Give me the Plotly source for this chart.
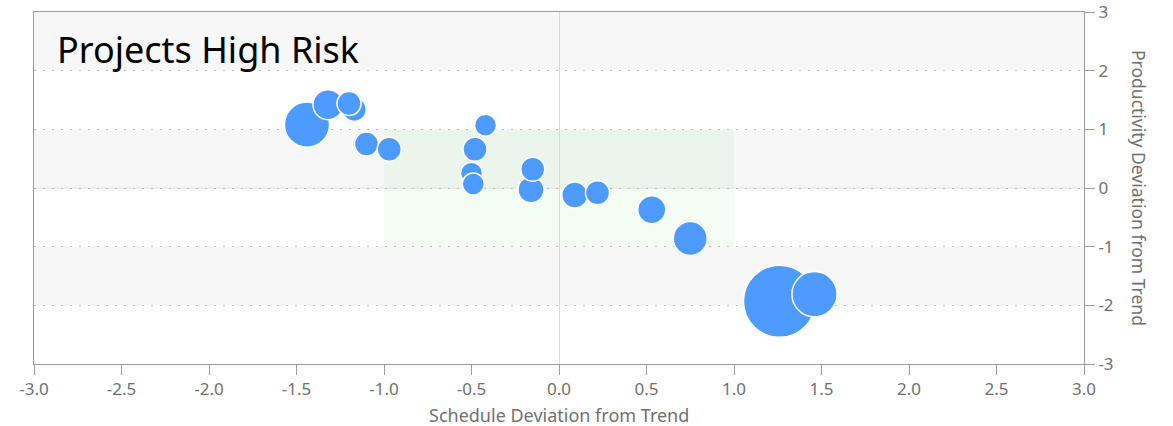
import plotly.graph_objects as go

# Project deviations: schedule (x) vs productivity (y), bubble area ~ project effort
schedule_dev = [-1.44, -1.32, -1.17, -1.20, -1.10, -0.97, -0.42, -0.48, -0.50, -0.49,
                -0.16, -0.15, 0.09, 0.22, 0.53, 0.75, 1.26, 1.46]
productivity_dev = [1.08, 1.42, 1.34, 1.44, 0.75, 0.66, 1.07, 0.66, 0.25, 0.07,
                    -0.03, 0.32, -0.12, -0.08, -0.37, -0.86, -1.93, -1.81]
effort = [51, 22.5, 14.4, 14.4, 14.4, 14.4, 12.1, 14.4, 12.1, 12.1,
          16.9, 14.4, 16.9, 14.4, 19.6, 28.9, 130, 51]

x_ticks = [-3.0, -2.5, -2.0, -1.5, -1.0, -0.5, 0.0, 0.5, 1.0, 1.5, 2.0, 2.5, 3.0]
x_tick_text = ["-3.0", "-2.5", "-2.0", "-1.5", "-1.0", "-0.5", "0.0", "0.5",
               "1.0", "1.5", "2.0", "2.5", "3.0"]
y_ticks = [-3, -2, -1, 0, 1, 2, 3]
y_tick_text = ["-3", "-2", "-1", "0", "1", "2", "3"]

AXIS_GRAY = "#9a9a9a"
LABEL_GRAY = "#707070"
FONT = "Noto Sans"

fig = go.Figure()
fig.add_trace(go.Scatter(
    x=schedule_dev, y=productivity_dev, mode="markers",
    marker=dict(size=effort, sizemode="area", sizeref=0.05,
                color="#4d9bff", opacity=1,
                line=dict(color="white", width=1.5)),
    hoverinfo="x+y",
))

shapes = []
# alternating horizontal bands
for y0, y1 in [(2, 3), (0, 1), (-2, -1)]:
    shapes.append(dict(type="rect", xref="x", yref="y", x0=-3, x1=3, y0=y0, y1=y1,
                       fillcolor="#f7f7f7", line=dict(width=0), layer="below"))
# target zone
shapes.append(dict(type="rect", xref="x", yref="y", x0=-1, x1=1, y0=-1, y1=1,
                   fillcolor="rgba(144,238,144,0.1)", line=dict(width=0), layer="below"))
# faint baseline under the dotted zero grid line
shapes.append(dict(type="line", xref="x", yref="y", x0=-3, x1=3, y0=0, y1=0,
                   line=dict(color="#e2e2e2", width=1), layer="below"))

fig.update_layout(
    width=1173, height=426,
    margin=dict(l=34, r=89, t=12, b=62),
    paper_bgcolor="white", plot_bgcolor="white",
    showlegend=False,
    shapes=shapes,
    font=dict(family=FONT, size=17, color=LABEL_GRAY),
    xaxis=dict(
        range=[-3, 3], tickvals=x_ticks, ticktext=x_tick_text,
        ticks="outside", ticklen=10, tickcolor=AXIS_GRAY, tickwidth=1,
        showline=True, linecolor=AXIS_GRAY, linewidth=1, mirror=True,
        showgrid=False, zeroline=True, zerolinecolor="#d9d9d9", zerolinewidth=1,
        tickfont=dict(family=FONT, size=17, color=LABEL_GRAY),
        automargin=False, ticklabeloverflow="allow",
    ),
    yaxis=dict(
        range=[-3, 3], side="right", tickvals=y_ticks, ticktext=y_tick_text,
        ticks="outside", ticklen=10, tickcolor=AXIS_GRAY, tickwidth=1,
        showline=True, linecolor=AXIS_GRAY, linewidth=1, mirror=True,
        showgrid=True, gridcolor="#bcbcbc", griddash="2px,7px", gridwidth=1,
        zeroline=False,
        tickfont=dict(family=FONT, size=17, color=LABEL_GRAY),
        automargin=False, ticklabeloverflow="allow",
    ),
    annotations=[
        dict(text="Schedule Deviation from Trend", xref="paper", yref="paper",
             x=0.5, y=0, yshift=-51, xanchor="center", yanchor="middle",
             showarrow=False,
             font=dict(family=FONT, size=18, color=LABEL_GRAY)),
        dict(text="Productivity Deviation from Trend", xref="paper", yref="paper",
             x=1.0, y=0.5, xshift=55, xanchor="center", yanchor="middle",
             textangle=90, showarrow=False,
             font=dict(family=FONT, size=17.5, color=LABEL_GRAY)),
        dict(text="Projects High Risk", xref="paper", yref="paper",
             x=0, y=1, xshift=21, yshift=-37, xanchor="left", yanchor="middle",
             showarrow=False, font=dict(family=FONT, size=36, color="black")),
    ],
)

fig.write_html("out.html")
